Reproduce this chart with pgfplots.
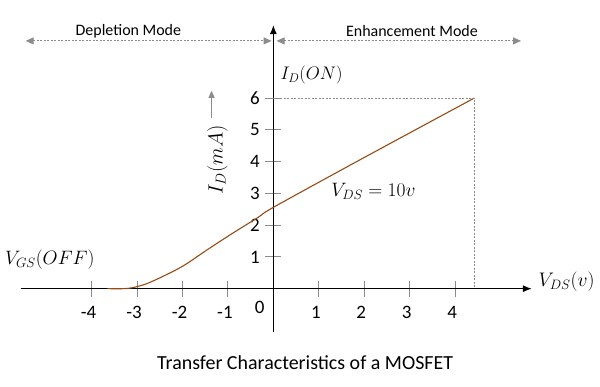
\documentclass[border=0pt]{standalone}
\usepackage{pgfplots}
\pgfplotsset{compat=1.18}
\usepackage{fontspec}
\setmainfont{Carlito}
\usetikzlibrary{arrows.meta}
\definecolor{curve}{RGB}{150,75,20}
\definecolor{gr}{RGB}{140,140,140}
\begin{document}
\begin{tikzpicture}
\fontsize{16bp}{19bp}\selectfont
\begin{axis}[
  x=45.5bp, y=31.8bp,
  xmin=-5.56, xmax=5.69, ymin=-1.35, ymax=8.3,
  axis lines=middle,
  axis line style={line width=1.3bp, -{Latex[length=9bp,width=7bp]}},
  xtick={-4,-3,-2,-1,1,2,3,4},
  xticklabels={-4,-3,-2,-1,1,2,3,4},
  ytick={1,2,3,4,5,6},
  yticklabels={1,2,3,4,5,6},
  major tick length=16bp, tick align=center,
  tick style={gr, line width=1bp},
  xticklabel style={font=\fontsize{19bp}{22bp}\selectfont, xshift=-3bp, yshift=-4bp},
  yticklabel style={font=\fontsize{19bp}{22bp}\selectfont},
  clip=false,
]
\addplot[curve, line width=1.1bp, smooth, tension=0.5] coordinates {
 (-3.65,0) (-3.3,0) (-3.1,0.03) (-2.8,0.15) (-2.44,0.38) (-1.98,0.72)
 (-1.45,1.23) (-0.88,1.76) (-0.35,2.23) (0,2.56) (1.91,4.06) (4.42,6)
};
\draw[gr, line width=0.8bp, dash pattern=on 2bp off 1.5bp] (axis cs:0,6) -- (axis cs:4.42,6) -- (axis cs:4.42,0);
% top mode arrows
\draw[gr, line width=0.9bp, dash pattern=on 2bp off 1.5bp, {Triangle[length=8bp,width=7bp]}-{Triangle[length=8bp,width=7bp]}] (axis cs:-5.45,7.8) -- (axis cs:-0.04,7.8);
\draw[gr, line width=0.9bp, dash pattern=on 2bp off 1.5bp, {Triangle[length=8bp,width=7bp]}-{Triangle[length=8bp,width=7bp]}] (axis cs:0.07,7.8) -- (axis cs:5.45,7.8);
\node at (axis cs:-3.19,8.1) {Depletion Mode};
\node at (axis cs:3.05,8.1) {Enhancement Mode};
% labels
\node[font=\fontsize{19bp}{22bp}\selectfont, scale=0.88] at (axis cs:0.84,6.73) {$I_D(ON)$};
\node[font=\fontsize{19bp}{22bp}\selectfont, scale=0.94] at (axis cs:2.2,3.05) {$V_{DS} = 10v$};
\node[font=\fontsize{19bp}{22bp}\selectfont, scale=0.95, anchor=west] at (axis cs:5.72,0.22) {$V_{DS}(v)$};
\node[font=\fontsize{19bp}{22bp}\selectfont, scale=0.94] at (axis cs:-4.92,0.92) {$V_{GS}(OFF)$};
\node[font=\fontsize{19bp}{22bp}\selectfont, rotate=90] at (axis cs:-1.23,4.06) {$I_D(mA)$};
\draw[gr, line width=1bp, -{Triangle[length=7bp,width=6bp]}] (axis cs:-1.36,5.38) -- (axis cs:-1.36,6.23);
\node[font=\fontsize{19bp}{22bp}\selectfont] at (axis cs:-0.3,-0.6) {0};
\node[font=\fontsize{20bp}{24bp}\selectfont] at (axis cs:0.70,-2.32) {Transfer Characteristics of a MOSFET};
\path (axis cs:-6.0,-3.082) rectangle (axis cs:7.187,9.088);
\end{axis}
\end{tikzpicture}
\end{document}
